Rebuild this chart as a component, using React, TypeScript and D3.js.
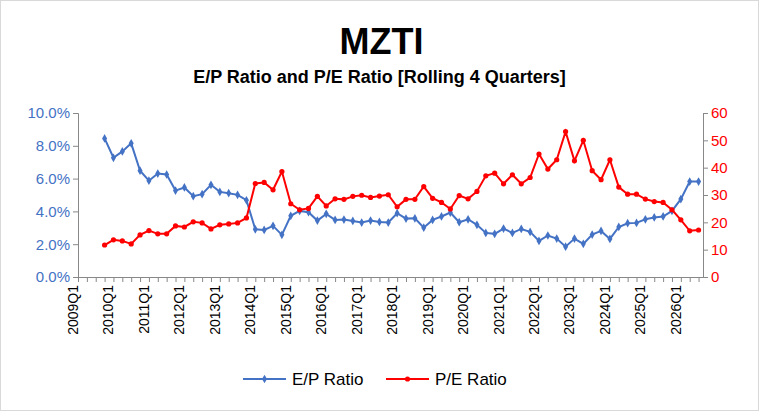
import React, { useEffect, useRef } from 'react';
import * as d3 from 'd3';

const years = d3.range(2009, 2027);
const quarters = years.flatMap(y => [1, 2, 3, 4].map(q => `${y}Q${q}`)).slice(0, 71);
const firstIndex = 3;

const epRatio = [8.45, 7.27, 7.66, 8.15, 6.48, 5.87, 6.31, 6.25, 5.27, 5.46, 4.93, 5.05, 5.62, 5.19, 5.11, 5.01, 4.68,
  2.91, 2.87, 3.12, 2.57, 3.73, 4.03, 3.95, 3.44, 3.85, 3.48, 3.50, 3.42, 3.32, 3.44, 3.36, 3.32,
  3.89, 3.56, 3.58, 3.01, 3.48, 3.69, 3.93, 3.34, 3.52, 3.18, 2.69, 2.63, 2.95, 2.69, 2.93, 2.75, 2.20,
  2.53, 2.34, 1.85, 2.34, 2.02, 2.59, 2.81, 2.32, 3.05, 3.28, 3.30, 3.52, 3.63, 3.69, 4.03, 4.75, 5.82, 5.82];

const peRatio = [11.7, 13.6, 13.2, 12.1, 15.4, 17.0, 15.8, 15.8, 18.7, 18.3, 20.2, 19.8, 17.6, 19.1, 19.4, 19.8, 21.6,
  34.2, 34.6, 31.9, 38.6, 26.8, 24.6, 25.1, 29.5, 26.0, 28.6, 28.4, 29.5, 29.9, 29.1, 29.6, 30.1,
  25.7, 28.4, 28.4, 33.1, 28.8, 27.3, 24.9, 29.8, 28.6, 31.3, 37.0, 38.0, 34.1, 37.4, 34.1, 36.4, 45.0,
  39.5, 42.9, 53.2, 42.5, 50.0, 38.9, 35.6, 42.9, 32.9, 30.3, 30.3, 28.5, 27.6, 27.3, 24.6, 20.9, 16.9, 17.2];

const leftTicks = [0, 2, 4, 6, 8, 10];
const rightTicks = [0, 10, 20, 30, 40, 50, 60];

const BLUE = '#4472C4';
const RED = '#FF0000';
const FONT = 'Liberation Sans, Arial, sans-serif';

export default function App() {
  const ref = useRef<SVGSVGElement | null>(null);

  useEffect(() => {
    document.body.style.margin = '0';
    const svg = d3.select(ref.current!);
    svg.selectAll('*').remove();
    const W = 759, H = 411;
    const left = 78, right = 703, top = 113, bottom = 277;

    svg.append('rect').attr('x', 0.5).attr('y', 0.5).attr('width', W - 1).attr('height', H - 1)
      .attr('fill', '#fff').attr('stroke', '#d9d9d9');

    const x = d3.scaleLinear().domain([0, 70.5]).range([left, right]);
    const yL = d3.scaleLinear().domain([0, 10]).range([bottom, top]);
    const yR = d3.scaleLinear().domain([0, 60]).range([bottom, top]);

    svg.append('text').attr('x', W / 2 + 2).attr('y', 54).attr('text-anchor', 'middle')
      .attr('font-family', FONT).attr('font-weight', 'bold').attr('font-size', 36).text('MZTI');
    svg.append('text').attr('x', W / 2).attr('y', 83).attr('text-anchor', 'middle')
      .attr('font-family', FONT).attr('font-weight', 'bold').attr('font-size', 18).text('E/P Ratio and P/E Ratio [Rolling 4 Quarters]');

    const gl = svg.append('g').attr('transform', `translate(${left},0)`)
      .call(d3.axisLeft(yL).tickValues(leftTicks).tickSize(5).tickFormat(d => `${(+d).toFixed(1)}%`));
    gl.selectAll('text').attr('fill', BLUE).attr('font-size', 15).attr('font-family', FONT);
    gl.selectAll('line,path').attr('stroke', '#888');

    const gr = svg.append('g').attr('transform', `translate(${right},0)`)
      .call(d3.axisRight(yR).tickValues(rightTicks).tickSize(5));
    gr.selectAll('text').attr('fill', RED).attr('font-size', 15).attr('font-family', FONT);
    gr.selectAll('line,path').attr('stroke', '#888');

    const gx = svg.append('g').attr('transform', `translate(0,${bottom})`)
      .call(d3.axisBottom(x).tickValues(d3.range(0, 71)).tickSize(5).tickSizeOuter(0)
        .tickFormat(d => (+d % 4 === 0 ? quarters[+d] : '')));
    gx.selectAll('line,path').attr('stroke', '#888');
    gx.selectAll('text').attr('font-size', 14).attr('font-family', FONT).attr('fill', '#000')
      .attr('transform', 'rotate(-90)').attr('text-anchor', 'end').attr('x', -8).attr('y', -5).attr('dy', '0.32em');

    const epPts = epRatio.map((v, i) => [x(firstIndex + i), yL(v)] as [number, number]);
    const pePts = peRatio.map((v, i) => [x(firstIndex + i), yR(v)] as [number, number]);

    svg.append('path').attr('d', d3.line()(epPts)).attr('fill', 'none').attr('stroke', BLUE).attr('stroke-width', 2);
    svg.append('g').selectAll('path').data(epPts).join('path')
      .attr('d', d3.symbol(d3.symbolDiamond, 22)()).attr('transform', d => `translate(${d[0]},${d[1]})`).attr('fill', BLUE);

    svg.append('path').attr('d', d3.line()(pePts)).attr('fill', 'none').attr('stroke', RED).attr('stroke-width', 2);
    svg.append('g').selectAll('circle').data(pePts).join('circle')
      .attr('cx', d => d[0]).attr('cy', d => d[1]).attr('r', 2.6).attr('fill', RED);

    const lg = svg.append('g').attr('font-family', FONT).attr('font-size', 17);
    lg.append('line').attr('x1', 243).attr('x2', 286).attr('y1', 379).attr('y2', 379).attr('stroke', BLUE).attr('stroke-width', 2);
    lg.append('path').attr('d', d3.symbol(d3.symbolDiamond, 22)()).attr('transform', 'translate(264.5,379)').attr('fill', BLUE);
    lg.append('text').attr('x', 292).attr('y', 385).text('E/P Ratio');
    lg.append('line').attr('x1', 386).attr('x2', 429).attr('y1', 379).attr('y2', 379).attr('stroke', RED).attr('stroke-width', 2);
    lg.append('circle').attr('cx', 407.5).attr('cy', 379).attr('r', 2.6).attr('fill', RED);
    lg.append('text').attr('x', 435).attr('y', 385).text('P/E Ratio');
  }, []);

  return <svg ref={ref} width={759} height={411} style={{ display: 'block' }} />;
}
